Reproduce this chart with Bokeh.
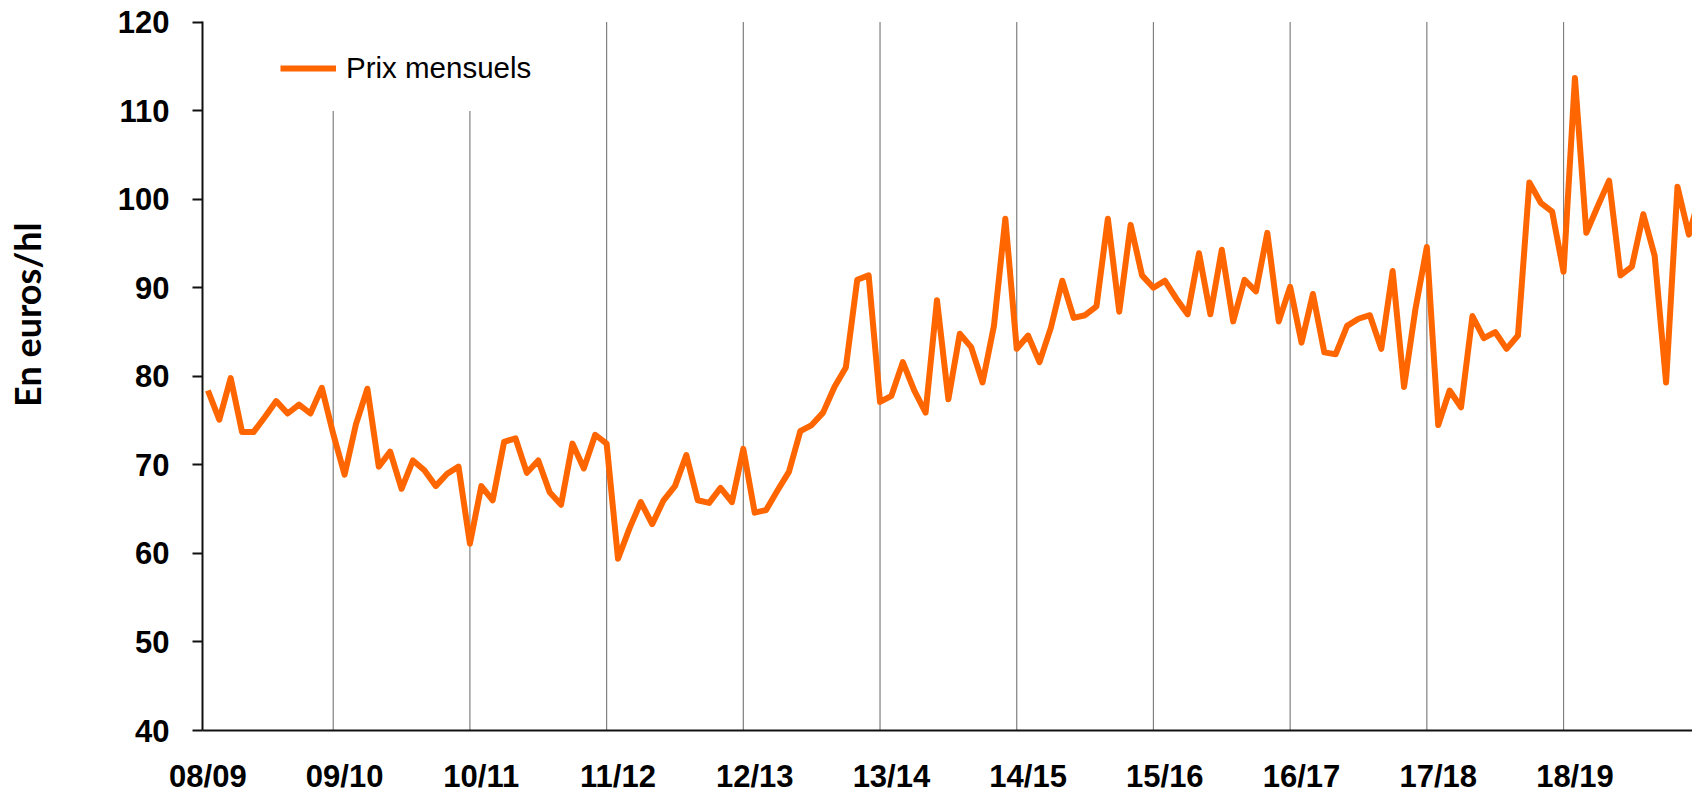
from bokeh.plotting import figure
from bokeh.models import Range1d, FixedTicker
from bokeh.embed import file_html
from bokeh.resources import INLINE

# campaign labels (one every 12 months)
campaigns = ["08/09", "09/10", "10/11", "11/12", "12/13", "13/14",
             "14/15", "15/16", "16/17", "17/18", "18/19"]

# monthly prices, euros/hl
prices = [
    78.4, 75.1, 79.8, 73.7, 73.7, 75.4, 77.2, 75.8, 76.8, 75.8, 78.7, 73.5,
    68.9, 74.6, 78.6, 69.8, 71.5, 67.3, 70.5, 69.4, 67.6, 69.0, 69.8, 61.1,
    67.6, 66.0, 72.6, 73.0, 69.1, 70.5, 66.9, 65.5, 72.4, 69.6, 73.4, 72.4,
    59.4, 62.8, 65.8, 63.3, 66.0, 67.6, 71.1, 66.0, 65.7, 67.4, 65.8, 71.8,
    64.6, 64.9, 67.1, 69.2, 73.8, 74.5, 75.9, 78.8, 81.0, 90.9, 91.4, 77.1,
    77.8, 81.6, 78.4, 75.9, 88.6, 77.4, 84.8, 83.3, 79.3, 85.7, 97.8, 83.1,
    84.6, 81.6, 85.5, 90.8, 86.6, 86.9, 87.9, 97.8, 87.3, 97.1, 91.4, 90.0,
    90.8, 88.8, 87.0, 93.9, 87.0, 94.3, 86.2, 90.9, 89.6, 96.2, 86.2, 90.1,
    83.8, 89.3, 82.7, 82.5, 85.7, 86.5, 86.9, 83.1, 91.9, 78.8, 87.6, 94.6,
    74.5, 78.4, 76.5, 86.8, 84.3, 85.0, 83.1, 84.6, 101.9, 99.6, 98.6, 91.8,
    113.7, 96.2, 99.2, 102.1, 91.4, 92.4, 98.3, 93.6, 79.3, 101.4, 96.0, 100.5,
]
months = list(range(len(prices)))

# campaign boundary markers (month index) and their upper value
boundary_month = [11, 23, 35, 47, 59, 71, 83, 95, 107, 119]
boundary_top = [110, 110, 120, 120, 120, 120, 120, 120, 120, 120]
campaign_month = [12 * k for k in range(len(campaigns))]
y_title = "En euros/hl"

p = figure(width=1692, height=796, output_backend="svg", toolbar_location=None,
           x_range=Range1d(-0.474, 130.32), y_range=Range1d(40, 120.07),
           min_border_left=202, min_border_right=0, min_border_top=21,
           min_border_bottom=64)
p.outline_line_color = None
p.background_fill_color = "white"
p.border_fill_color = "white"
p.xgrid.visible = False
p.ygrid.visible = False

p.segment(x0=boundary_month, y0=[40] * len(boundary_month), x1=boundary_month,
          y1=boundary_top, line_color="#000000", line_width=1.2, line_dash="1 1")

p.line(months, prices, line_color="#FF6600", line_width=6,
       line_join="round", legend_label="Prix mensuels")

# y axis
yax = p.yaxis[0]
yax.ticker = FixedTicker(ticks=list(range(40, 121, 10)))
yax.major_tick_in = 0
yax.major_tick_out = 10
yax.minor_tick_line_color = None
yax.axis_line_color = "#111111"
yax.axis_line_width = 2
yax.major_tick_line_color = "#111111"
yax.major_tick_line_width = 2
yax.major_label_standoff = 23
yax.major_label_text_font = "Liberation Sans"
yax.major_label_text_font_style = "bold"
yax.major_label_text_font_size = "31px"
yax.major_label_text_color = "black"
# title sits above the frame's middle: pad its start with no-break spaces
yax.axis_label = "\u00a0" * 14 + y_title
yax.axis_label_standoff = 66
yax.axis_label_text_font = "Lato"
yax.axis_label_text_font_style = "bold"
yax.axis_label_text_font_size = "36px"
yax.axis_label_text_color = "black"

# x axis
xax = p.xaxis[0]
xax.ticker = FixedTicker(ticks=campaign_month)
xax.major_label_overrides = {m: c for m, c in zip(campaign_month, campaigns)}
xax.major_tick_in = 0
xax.major_tick_out = 0
xax.minor_tick_line_color = None
xax.axis_line_color = "#111111"
xax.axis_line_width = 2
xax.major_label_standoff = 28
xax.major_label_text_font = "Liberation Sans"
xax.major_label_text_font_style = "bold"
xax.major_label_text_font_size = "31px"
xax.major_label_text_color = "black"

lg = p.legend[0]
lg.location = (78, 645)
lg.border_line_color = None
lg.background_fill_alpha = 0
lg.padding = 0
lg.margin = 0
lg.glyph_width = 56
lg.glyph_height = 34
lg.label_standoff = 10
lg.label_text_font = "Liberation Sans"
lg.label_text_font_size = "29.5px"
lg.label_text_color = "black"

open("out.html", "w").write(file_html(p, INLINE))
